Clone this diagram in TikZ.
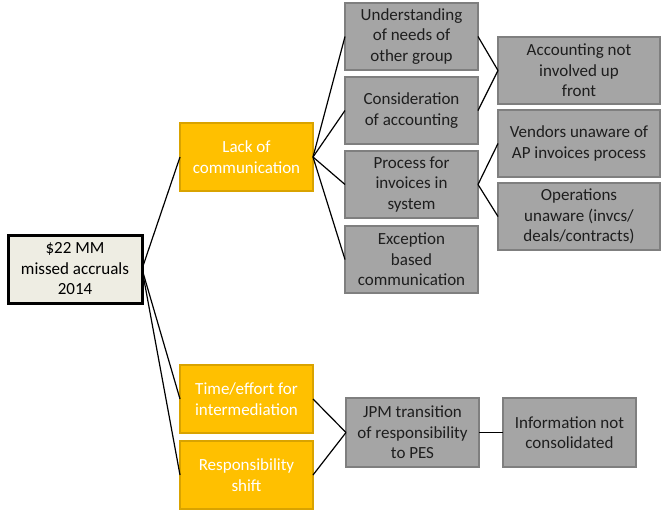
\documentclass[tikz,border=0pt]{standalone}
\usepackage{fontspec}
\setmainfont{Carlito}
\usetikzlibrary{positioning}

\definecolor{rootfill}{HTML}{EEEDE3}
\definecolor{yelfill}{HTML}{FFC000}
\definecolor{yeldraw}{HTML}{D9A300}
\definecolor{grayfill}{HTML}{A5A5A5}
\definecolor{graydraw}{HTML}{7F7F7F}
\definecolor{graytext}{HTML}{1E1E1E}

\begin{document}
\begin{tikzpicture}[x=1pt,y=1pt,line width=1.2pt,
                    font=\fontsize{17}{20.5}\selectfont,
                    box/.style={rectangle,align=center,inner sep=0pt,outer sep=0pt,
                                minimum width=133pt,minimum height=67pt},
                    rootbox/.style={box,fill=rootfill,draw=black,line width=3pt,
                                    minimum width=134pt,minimum height=68pt},
                    yelbox/.style={box,fill=yelfill,draw=yeldraw,line width=2pt,
                                   text=white,minimum height=68pt},
                    graybox/.style={box,fill=grayfill,draw=graydraw,line width=2pt,
                                    text=graytext},
                    widebox/.style={graybox,minimum width=162pt}]

  \clip (0,0) rectangle (661,-509);

  \node[rootbox] (root) at (75,-269) {\$22 MM\\missed accruals\\2014};
  \node[yelbox]  (lack) [right=38pt of root,yshift=112pt] {Lack of\\communication};
  \node[yelbox]  (time) [below=174pt of lack] {Time/effort for\\intermediation};
  \node[yelbox]  (resp) [below=8pt of time] {Responsibility\\shift};

  \node[graybox] (und)  [right=32pt of lack,yshift=120.5pt] {Understanding\\of needs of\\other group};
  \node[graybox] (cons) [below=7pt of und]  {Consideration\\of accounting};
  \node[graybox] (proc) [below=7pt of cons] {Process for\\invoices in\\system};
  \node[graybox] (exc)  [below=8pt of proc] {Exception\\based\\communication};

  \node[widebox] (acc)  [right=20pt of und,yshift=-34pt] {Accounting not\\involved up\\front};
  \node[widebox] (vend) [below=6pt of acc]  {Vendors unaware of\\AP invoices process};
  \node[widebox] (ops)  [below=6pt of vend] {Operations\\unaware (invcs/\\deals/contracts)};

  \node[graybox] (jpm)  [right=33pt of time,yshift=-33.5pt,minimum height=69pt] {JPM transition\\of responsibility\\to PES};
  \node[graybox] (info) [right=24pt of jpm,minimum height=69pt] {Information not\\consolidated};

  \path (root.east) edge (lack.west)
        (root.east) edge (time.west)
        (root.east) edge (resp.west)
        (lack.east) edge (und.west)
        (lack.east) edge (cons.west)
        (lack.east) edge (proc.west)
        (lack.east) edge (exc.west)
        (und.east)  edge (acc.west)
        (cons.east) edge (acc.west)
        (proc.east) edge (vend.west)
        (proc.east) edge (ops.west)
        (time.east) edge (jpm.west)
        (resp.east) edge (jpm.west)
        (jpm.east)  edge (info.west);
\end{tikzpicture}
\end{document}
